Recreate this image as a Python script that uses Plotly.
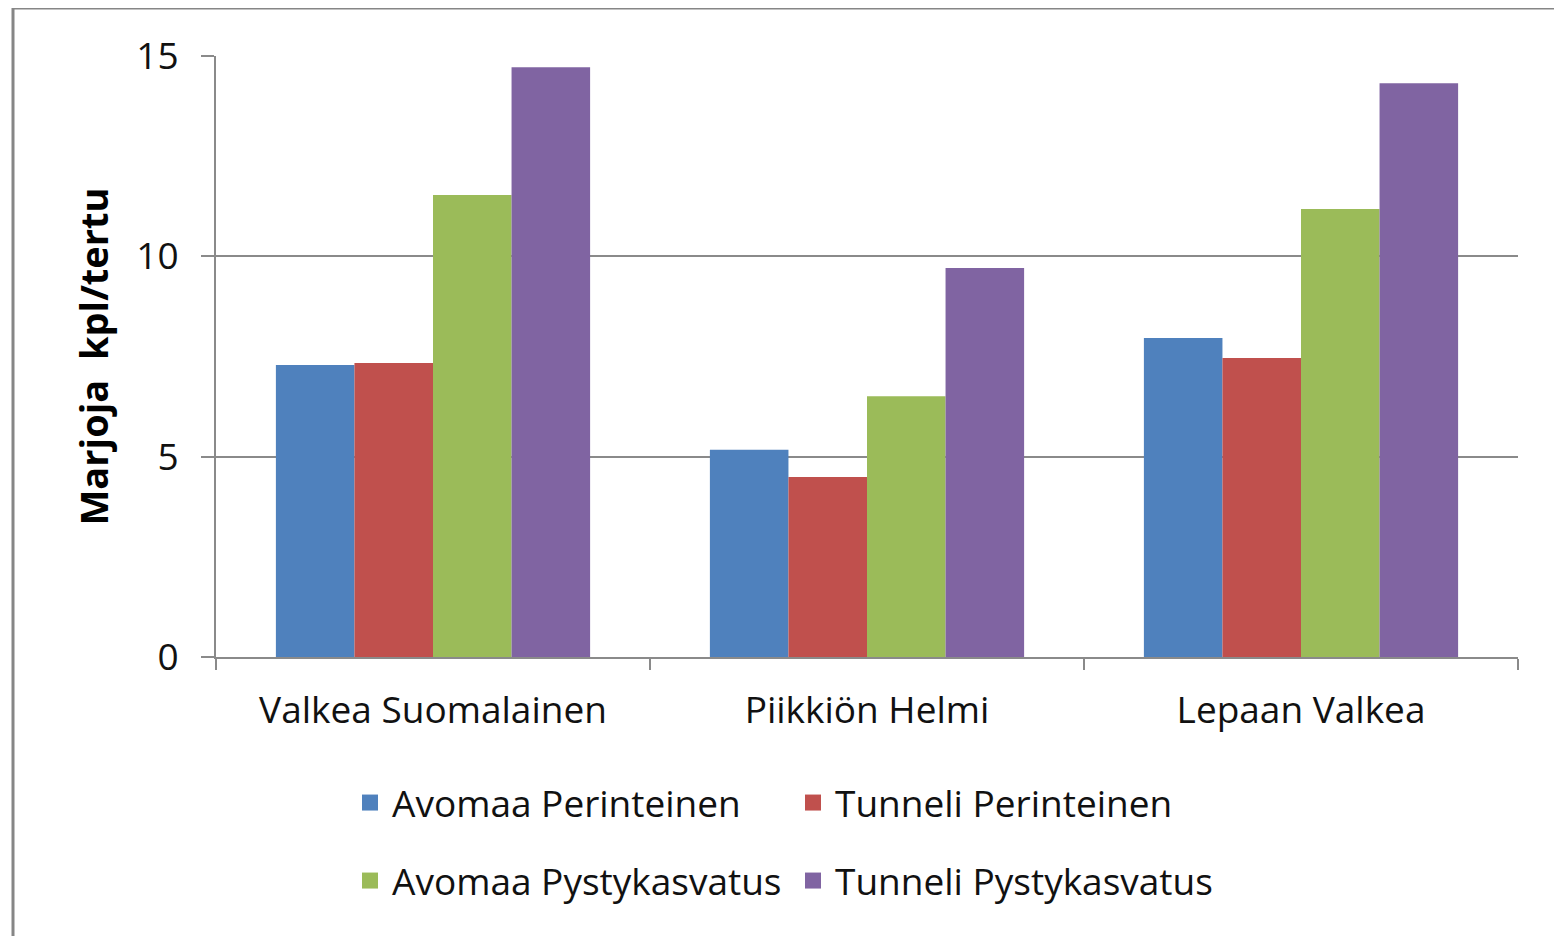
import plotly.graph_objects as go

categories = ["Valkea Suomalainen", "Piikkiön Helmi", "Lepaan Valkea"]
series_names = ["Avomaa Perinteinen", "Tunneli Perinteinen", "Avomaa Pystykasvatus", "Tunneli Pystykasvatus"]
avomaa_perinteinen = [7.29, 5.17, 7.96]
tunneli_perinteinen = [7.34, 4.49, 7.46]
avomaa_pystykasvatus = [11.53, 6.51, 11.18]
tunneli_pystykasvatus = [14.72, 9.71, 14.32]
y_ticks = [0, 5, 10, 15]
colors = ["#4F81BD", "#C0504D", "#9BBB59", "#8064A2"]

FONT = "Open Sans"
FS = 37
values = [avomaa_perinteinen, tunneli_perinteinen, avomaa_pystykasvatus, tunneli_pystykasvatus]

fig = go.Figure()
for name, vals, col in zip(series_names, values, colors):
    fig.add_trace(go.Bar(x=categories, y=vals, name=name, marker=dict(color=col, line=dict(width=0)),
                         showlegend=False))

legend_ids = ["legend", "legend", "legend2", "legend2"]
for name, col, lg in zip(series_names, colors, legend_ids):
    fig.add_trace(go.Scatter(x=[None], y=[None], mode="markers", name=name,
                             marker=dict(symbol="square", size=22, color=col),
                             legend=lg, showlegend=True))

# page body has an 8px margin, so figure coordinates = screen coordinates - 8
OFF = 8
W, H = 1562, 936
L, T = 216 - OFF, 56 - OFF
R = W - (1518 - OFF)
B = H - (657 - OFF)
pw, ph = W - L - R, H - T - B

def px(x):
    return (x - OFF - L) / pw

def py(y):
    return (H - B - (y - OFF)) / ph

fig.update_layout(
    width=W, height=H,
    margin=dict(l=L, r=R, t=T, b=B),
    paper_bgcolor="white", plot_bgcolor="white",
    font=dict(family=FONT, size=FS, color="#111111"),
    barmode="group", bargap=0.276, bargroupgap=0,
    legend=dict(orientation="h", x=px(348), y=py(803), yanchor="middle", xanchor="left",
                entrywidth=394, entrywidthmode="pixels", font=dict(size=FS), itemwidth=34,
                bgcolor="rgba(0,0,0,0)"),
    legend2=dict(orientation="h", x=px(348), y=py(881), yanchor="middle", xanchor="left",
                 entrywidth=394, entrywidthmode="pixels", font=dict(size=FS), itemwidth=34,
                 bgcolor="rgba(0,0,0,0)"),
    xaxis=dict(type="category", showline=True, linecolor="#8a8a8a", linewidth=2,
               ticks="outside", tickson="boundaries", ticklen=11, tickcolor="#8a8a8a", tickwidth=2,
               showgrid=False, ticklabelstandoff=20, zeroline=False),
    yaxis=dict(range=[0, 15], tickvals=y_ticks, showline=True, linecolor="#8a8a8a", linewidth=2,
               ticks="outside", ticklen=13, tickcolor="#8a8a8a", tickwidth=2,
               showgrid=True, gridcolor="#8a8a8a", gridwidth=1.5, zeroline=False,
               ticklabelstandoff=15,
               title=dict(text="<b>Marjoja  kpl/tertu</b>", font=dict(size=38, color="#000"), standoff=16)),
    shapes=[dict(type="rect", xref="paper", yref="paper", x0=px(13), x1=px(1620), y0=py(8), y1=py(1000),
                 line=dict(color="#868686", width=3), fillcolor="rgba(0,0,0,0)", layer="below")],
)

fig.write_html("out.html")
